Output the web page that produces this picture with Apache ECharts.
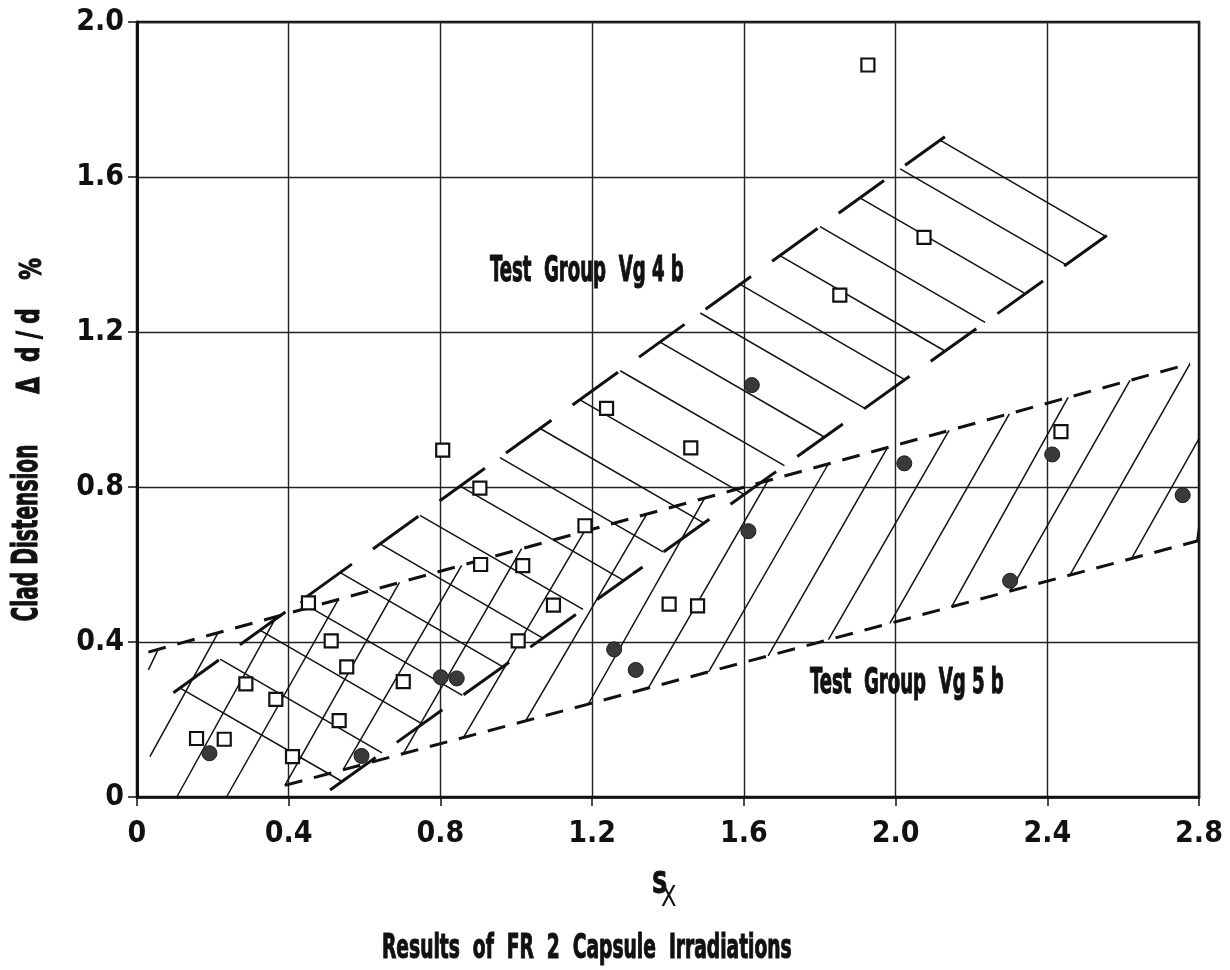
<!DOCTYPE html>
<html>
<head>
<meta charset="utf-8">
<script src="https://cdn.jsdelivr.net/npm/echarts@6/dist/echarts.min.js"></script>
<style>
  html, body { margin: 0; padding: 0; background: #ffffff; }
  #chart { width: 1230px; height: 970px; }
</style>
</head>
<body>
<div id="chart"></div>
<script>
// Axis ticks
const xTickLabels = ['0', '0.4', '0.8', '1.2', '1.6', '2.0', '2.4', '2.8'];
const yTickLabels = ['0', '0.4', '0.8', '1.2', '1.6', '2.0'];

// Measured points, test group Vg 4b (open squares): [S_X, Δd/d %]
const vg4bPoints = [
  [0.157, 0.151], [0.230, 0.149], [0.287, 0.292], [0.366, 0.252], [0.410, 0.104],
  [0.452, 0.501], [0.512, 0.403], [0.533, 0.197], [0.553, 0.336], [0.702, 0.298],
  [0.806, 0.895], [0.904, 0.797], [0.906, 0.600], [1.017, 0.597], [1.005, 0.403],
  [1.098, 0.495], [1.181, 0.700], [1.238, 1.003], [1.403, 0.498], [1.460, 0.901],
  [1.478, 0.493], [1.853, 1.295], [1.927, 1.889], [2.075, 1.444], [2.436, 0.943]
];

// Measured points, test group Vg 5b (filled circles)
const vg5bPoints = [
  [0.191, 0.113], [0.592, 0.106], [0.801, 0.309], [0.843, 0.306], [1.258, 0.381],
  [1.315, 0.328], [1.621, 1.063], [1.612, 0.686], [2.023, 0.861], [2.302, 0.558],
  [2.413, 0.884], [2.757, 0.779]
];

// Scatter band Vg 4b: upper and lower edges (long dashes)
const vg4bUpperEdge = [[0.096, 0.269], [2.130, 1.704]];
const vg4bLowerEdge = [[0.509, 0.018], [2.557, 1.449]];
// Vg 4b hatching: [x1, y1, x2, y2]
const vg4bHatch = [
  [0.114, 0.281, 0.541, 0.040], [0.219, 0.356, 0.646, 0.114], [0.325, 0.430, 0.753, 0.188],
  [0.430, 0.504, 0.858, 0.262], [0.536, 0.579, 0.965, 0.336], [0.641, 0.653, 1.070, 0.410],
  [0.746, 0.727, 1.176, 0.484], [0.852, 0.802, 1.283, 0.559], [0.957, 0.876, 1.388, 0.632],
  [1.063, 0.951, 1.495, 0.707], [1.168, 1.025, 1.600, 0.781], [1.274, 1.100, 1.707, 0.855],
  [1.379, 1.174, 1.812, 0.929], [1.485, 1.249, 1.919, 1.003], [1.590, 1.323, 2.024, 1.077],
  [1.695, 1.397, 2.130, 1.151], [1.801, 1.472, 2.236, 1.225], [1.906, 1.546, 2.342, 1.299],
  [2.012, 1.621, 2.449, 1.374], [2.117, 1.695, 2.554, 1.447]
];

// Scatter band Vg 5b: upper and lower edges (short dashes)
const vg5bUpperEdge = [[0.030, 0.374], [2.776, 1.118]];
const vg5bLowerEdge = [[0.390, 0.030], [2.800, 0.662]];
// Vg 5b hatching: [x1, y1, x2, y2]
const vg5bHatch = [
  [0.030, 0.328, 0.056, 0.381], [0.034, 0.104, 0.214, 0.424], [0.105, 0.000, 0.368, 0.466],
  [0.236, 0.000, 0.531, 0.510], [0.390, 0.030, 0.692, 0.554], [0.544, 0.071, 0.856, 0.598],
  [0.702, 0.112, 1.014, 0.641], [0.861, 0.154, 1.180, 0.686], [1.025, 0.197, 1.344, 0.730],
  [1.190, 0.240, 1.497, 0.772], [1.348, 0.281, 1.664, 0.817], [1.507, 0.323, 1.823, 0.860],
  [1.664, 0.364, 1.979, 0.902], [1.823, 0.406, 2.141, 0.946], [1.985, 0.448, 2.300, 0.989],
  [2.148, 0.491, 2.455, 1.031], [2.302, 0.531, 2.618, 1.075], [2.460, 0.573, 2.776, 1.118],
  [2.622, 0.615, 2.800, 0.925], [2.794, 0.660, 2.800, 0.700]
];

const INK = '#111111';
const NARROW = "'Liberation Sans Narrow', 'DejaVu Sans Condensed', 'Liberation Sans', sans-serif";

function segs(list) {
  return list.map(s => ({ coords: [[s[0], s[1]], [s[2], s[3]]] }));
}

function edge(name, pts, dash) {
  return {
    name: name,
    type: 'line',
    data: pts,
    symbol: 'none',
    silent: true,
    z: 3,
    lineStyle: { color: INK, width: 3, type: dash, cap: 'butt' }
  };
}

// Condensed bold caption text (a thin outline keeps the squeezed glyphs heavy)
function caption(text, x, y, size, sx, align, rotation) {
  return {
    type: 'text', x: x, y: y, scaleX: sx, rotation: rotation || 0, z: 10,
    style: {
      text: text, fill: INK, stroke: INK, lineWidth: 1.1,
      font: 'bold ' + size + 'px ' + NARROW,
      textAlign: align || 'left', textVerticalAlign: 'middle'
    }
  };
}

const chart = echarts.init(document.getElementById('chart'), null, { renderer: 'canvas' });

chart.setOption({
  animation: false,
  backgroundColor: '#ffffff',
  grid: {
    left: 137, top: 22, width: 1062, height: 775,
    show: true, borderColor: INK, borderWidth: 2.5, backgroundColor: 'transparent'
  },
  xAxis: {
    type: 'value', min: 0, max: 2.8, interval: 0.4,
    axisLine: { show: true, onZero: false, lineStyle: { color: INK, width: 2.5 } },
    axisTick: { show: true, length: 9, lineStyle: { color: INK, width: 1.5 } },
    splitLine: { show: true, lineStyle: { color: '#222', width: 1.4 } },
    axisLabel: {
      margin: 22, color: INK, fontFamily: NARROW, fontWeight: 'bold', fontSize: 30,
      formatter: v => xTickLabels[Math.round(v / 0.4)]
    }
  },
  yAxis: {
    type: 'value', min: 0, max: 2.0, interval: 0.4,
    axisLine: { show: true, onZero: false, lineStyle: { color: INK, width: 3 } },
    axisTick: { show: true, length: 9, lineStyle: { color: INK, width: 1.5 } },
    splitLine: { show: true, lineStyle: { color: '#222', width: 1.4 } },
    axisLabel: {
      margin: 13, color: INK, fontFamily: NARROW, fontWeight: 'bold', fontSize: 30,
      formatter: v => yTickLabels[Math.round(v / 0.4)]
    }
  },
  series: [
    {
      name: 'Vg 4b hatching', type: 'lines', coordinateSystem: 'cartesian2d',
      polyline: false, silent: true, z: 2,
      lineStyle: { color: INK, width: 1.5, opacity: 1 },
      data: segs(vg4bHatch)
    },
    {
      name: 'Vg 5b hatching', type: 'lines', coordinateSystem: 'cartesian2d',
      polyline: false, silent: true, z: 2,
      lineStyle: { color: INK, width: 1.5, opacity: 1 },
      data: segs(vg5bHatch)
    },
    edge('Vg 4b upper edge', vg4bUpperEdge, [56, 26]),
    edge('Vg 4b lower edge', vg4bLowerEdge, [56, 26]),
    edge('Vg 5b upper edge', vg5bUpperEdge, [18, 12]),
    edge('Vg 5b lower edge', vg5bLowerEdge, [18, 12]),
    {
      name: 'Test Group Vg 4b', type: 'scatter', z: 5,
      symbol: 'rect', symbolSize: 13,
      itemStyle: { color: '#ffffff', borderColor: INK, borderWidth: 2.2, opacity: 1 },
      data: vg4bPoints
    },
    {
      name: 'Test Group Vg 5b', type: 'scatter', z: 5,
      symbol: 'circle', symbolSize: 15,
      itemStyle: { color: '#3a3a3a', borderColor: '#1a1a1a', borderWidth: 1, opacity: 1 },
      data: vg5bPoints
    }
  ],
  graphic: [
    caption('Test  Group  Vg 4 b', 490, 272, 35, 0.575),
    caption('Test  Group  Vg 5 b', 810, 684, 35, 0.575),
    caption('Clad Distension', 28, 533, 35, 0.64, 'center', Math.PI / 2),
    caption('Δ  d / d', 31, 351, 32, 0.75, 'center', Math.PI / 2),
    caption('%', 33, 269, 30, 0.8, 'center', Math.PI / 2),
    caption('S', 652, 885, 30, 0.8),
    {
      type: 'text', x: 661, y: 899, scaleX: 0.9, z: 10,
      style: { text: 'X', fill: INK, font: '28px ' + NARROW, textVerticalAlign: 'middle' }
    },
    caption('Results  of  FR  2  Capsule  Irradiations', 382, 949, 34, 0.61)
  ]
});
</script>
</body>
</html>
